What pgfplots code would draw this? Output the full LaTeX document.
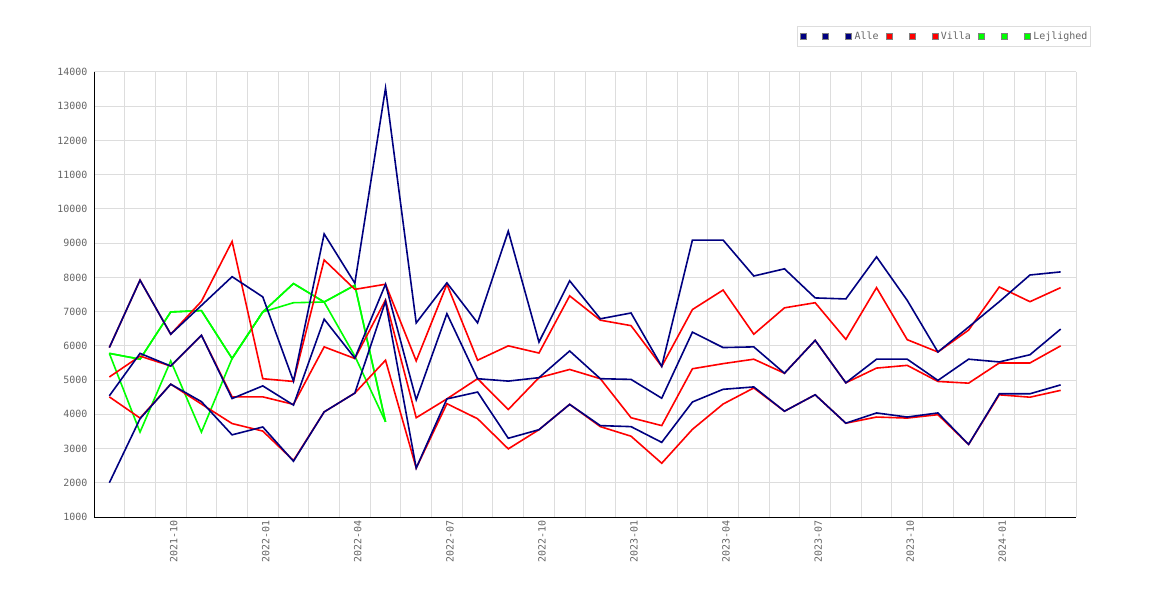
\documentclass[border=0pt]{standalone}
\usepackage{fontspec}
\setmonofont{DejaVu Sans Mono}
\usepackage{pgfplots}
\pgfplotsset{compat=1.18}
\usepackage{pgfplotstable}
\definecolor{navyc}{HTML}{000080}
\definecolor{redc}{HTML}{FF0000}
\definecolor{greenc}{HTML}{00FF00}
\definecolor{gridc}{HTML}{DDDDDD}
\definecolor{txtc}{HTML}{666666}

\pgfplotstableread{
i ah am al vh vm vl
0 5950 4540 2000 5950 5090 4510
1 7920 5780 3870 7920 5700 3890
2 6340 5410 4880 6340 5410 4880
3 7180 6310 4370 7300 6310 4300
4 8020 4460 3400 9050 4510 3730
5 7430 4830 3630 5040 4510 3510
6 4970 4270 2630 4960 4290 2650
7 9270 6780 4070 8510 5970 4070
8 7830 5640 4620 7650 5630 4620
9 13530 7800 7300 7800 7340 5580
10 6670 4425 2430 5560 3900 2430
11 7840 6940 4450 7800 4450 4310
12 6670 5040 4650 5580 5040 3870
13 9350 4970 3300 6000 4140 2990
14 6110 5070 3550 5790 5070 3550
15 7900 5850 4290 7460 5310 4290
16 6790 5040 3670 6750 5040 3640
17 6960 5020 3640 6590 3900 3360
18 5400 4470 3180 5400 3670 2570
19 9090 6400 4360 7060 5330 3560
20 9090 5950 4730 7630 5480 4300
21 8040 5970 4800 6340 5610 4770
22 8250 5200 4090 7110 5200 4090
23 7400 6160 4570 7260 6160 4570
24 7370 4920 3740 6190 4920 3740
25 8600 5610 4040 7700 5350 3920
26 7330 5610 3920 6180 5430 3890
27 5820 4990 4040 5820 4960 3990
28 6550 5610 3120 6460 4910 3120
29 7290 5530 4600 7720 5500 4570
30 8070 5740 4600 7290 5500 4500
31 8160 6490 4860 7700 6000 4700
}\alltab

\pgfplotstableread{
i lh lm ll
0 5780 5780 5780
1 5610 5610 3480
2 6990 6990 5560
3 7030 7030 3480
4 5630 5630 5630
5 6990 6990 6990
6 7820 7820 7260
7 7280 7280 7280
8 7770 7770 5700
9 3780 3780 3780
}\lejtab

\begin{document}
\begin{tikzpicture}
\useasboundingbox (0,0) rectangle (1170bp,600bp);
\begin{axis}[
  at={(94bp,83bp)}, anchor=south west,
  scale only axis, width=982bp, height=445bp,
  xmin=-0.5, xmax=31.5, ymin=1000, ymax=14000,
  scaled y ticks=false,
  xtick={2,5,...,29},
  xticklabels={2021-10,2022-01,2022-04,2022-07,2022-10,2023-01,2023-04,2023-07,2023-10,2024-01},
  minor xtick={-0.5,0.5,...,31.5},
  ytick={1000,2000,...,14000},
  yticklabel={\pgfmathprintnumber[fixed,precision=0,1000 sep={}]{\tick}},
  xminorgrids, ymajorgrids, xmajorgrids=false,
  grid style={gridc, line width=1bp},
  minor grid style={gridc, line width=1bp},
  major tick length=0pt, minor tick length=0pt,
  axis x line*=bottom, axis y line*=left,
  axis line style={black, line width=1bp, -},
  tick label style={font=\fontsize{10}{12}\selectfont\ttfamily, text=txtc},
  x tick label style={rotate=90, anchor=east, yshift=-3bp},
  y tick label style={xshift=-3bp},
  /pgf/number format/1000 sep={},
  /pgf/number format/assume math mode=true,
  legend columns=9,
  legend style={at={(0.716,1.103)}, anchor=north west, draw=gridc, line width=1bp,
    font=\fontsize{10}{12}\selectfont\ttfamily, text=txtc, inner xsep=2bp, inner ysep=4.5bp,
    nodes={inner sep=1bp},
    /tikz/every even column/.append style={column sep=6.5bp},
    /tikz/every odd column/.append style={column sep=1.7bp}},
  every axis plot/.append style={line width=1.6bp},
]
\addlegendimage{legend image code/.code={\draw[draw=gray, line width=0.6bp, fill=navyc] (0bp,-3bp) rectangle (6bp,3bp);}}
\addlegendentry{\hphantom{0}}
\addlegendimage{legend image code/.code={\draw[draw=gray, line width=0.6bp, fill=navyc] (0bp,-3bp) rectangle (6bp,3bp);}}
\addlegendentry{\hphantom{0}}
\addlegendimage{legend image code/.code={\draw[draw=gray, line width=0.6bp, fill=navyc] (0bp,-3bp) rectangle (6bp,3bp);}}
\addlegendentry{Alle}
\addlegendimage{legend image code/.code={\draw[draw=gray, line width=0.6bp, fill=redc] (0bp,-3bp) rectangle (6bp,3bp);}}
\addlegendentry{\hphantom{0}}
\addlegendimage{legend image code/.code={\draw[draw=gray, line width=0.6bp, fill=redc] (0bp,-3bp) rectangle (6bp,3bp);}}
\addlegendentry{\hphantom{0}}
\addlegendimage{legend image code/.code={\draw[draw=gray, line width=0.6bp, fill=redc] (0bp,-3bp) rectangle (6bp,3bp);}}
\addlegendentry{Villa}
\addlegendimage{legend image code/.code={\draw[draw=gray, line width=0.6bp, fill=greenc] (0bp,-3bp) rectangle (6bp,3bp);}}
\addlegendentry{\hphantom{0}}
\addlegendimage{legend image code/.code={\draw[draw=gray, line width=0.6bp, fill=greenc] (0bp,-3bp) rectangle (6bp,3bp);}}
\addlegendentry{\hphantom{0}}
\addlegendimage{legend image code/.code={\draw[draw=gray, line width=0.6bp, fill=greenc] (0bp,-3bp) rectangle (6bp,3bp);}}
\addlegendentry{Lejlighed}

\addplot[greenc, forget plot] table[x=i, y=lm] {\lejtab};
\addplot[greenc, forget plot] table[x=i, y=lh] {\lejtab};
\addplot[greenc, forget plot] table[x=i, y=ll] {\lejtab};
\addplot[redc, forget plot] table[x=i, y=vh] {\alltab};
\addplot[redc, forget plot] table[x=i, y=vm] {\alltab};
\addplot[redc, forget plot] table[x=i, y=vl] {\alltab};
\addplot[navyc, forget plot] table[x=i, y=ah] {\alltab};
\addplot[navyc, forget plot] table[x=i, y=am] {\alltab};
\addplot[navyc, forget plot] table[x=i, y=al] {\alltab};
\end{axis}
\end{tikzpicture}
\end{document}
